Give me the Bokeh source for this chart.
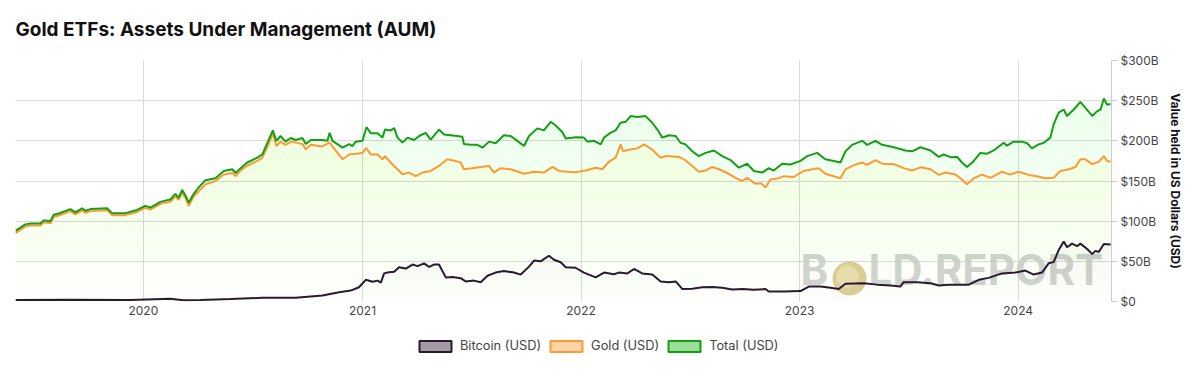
import numpy as np
import pandas as pd
from bokeh.plotting import figure
from bokeh.layouts import column
from bokeh.models import (Range1d, FixedTicker, DatetimeTickFormatter, Legend, LegendItem,
                          Label, PolyAnnotation, ColumnDataSource)
from bokeh.embed import file_html
from bokeh.resources import INLINE

# ---------------- data (decimal years, values in $B) ----------------
total_t = [2019.415, 2019.460, 2019.483, 2019.529, 2019.544, 2019.575, 2019.590, 2019.613, 2019.666, 2019.689,
           2019.720, 2019.735, 2019.758, 2019.834, 2019.857, 2019.918, 2019.971, 2020.009, 2020.032, 2020.078,
           2020.123, 2020.146, 2020.161, 2020.177, 2020.192, 2020.207, 2020.230, 2020.253, 2020.283, 2020.329,
           2020.367, 2020.406, 2020.421, 2020.444, 2020.474, 2020.520, 2020.543, 2020.570, 2020.591, 2020.607,
           2020.626, 2020.649, 2020.672, 2020.695, 2020.726, 2020.741, 2020.764, 2020.817, 2020.840, 2020.850,
           2020.863, 2020.909, 2020.939, 2020.954, 2020.969, 2021.000, 2021.018, 2021.038, 2021.069, 2021.091,
           2021.103, 2021.129, 2021.145, 2021.160, 2021.183, 2021.206, 2021.236, 2021.259, 2021.289, 2021.312,
           2021.350, 2021.373, 2021.434, 2021.457, 2021.464, 2021.495, 2021.526, 2021.549, 2021.579, 2021.609,
           2021.647, 2021.678, 2021.701, 2021.739, 2021.762, 2021.800, 2021.830, 2021.861, 2021.884, 2021.914,
           2021.930, 2021.975, 2022.013, 2022.029, 2022.059, 2022.090, 2022.105, 2022.135, 2022.158, 2022.181,
           2022.204, 2022.227, 2022.257, 2022.295, 2022.326, 2022.349, 2022.372, 2022.402, 2022.433, 2022.455,
           2022.478, 2022.509, 2022.539, 2022.570, 2022.608, 2022.646, 2022.684, 2022.722, 2022.760, 2022.791,
           2022.829, 2022.859, 2022.882, 2022.920, 2022.958, 2023.004, 2023.035, 2023.080, 2023.118, 2023.156,
           2023.187, 2023.210, 2023.240, 2023.286, 2023.309, 2023.347, 2023.378, 2023.431, 2023.484, 2023.515,
           2023.553, 2023.599, 2023.637, 2023.659, 2023.690, 2023.721, 2023.743, 2023.766, 2023.797, 2023.827,
           2023.858, 2023.888, 2023.934, 2023.949, 2023.979, 2024.018, 2024.041, 2024.063, 2024.094, 2024.117,
           2024.147, 2024.162, 2024.185, 2024.208, 2024.223, 2024.254, 2024.284, 2024.307, 2024.338, 2024.361,
           2024.376, 2024.391, 2024.406, 2024.422]
total_v = [88, 96, 97, 97, 101, 100, 108, 109.5, 115, 111,
           116, 113, 115, 116, 110, 110, 114, 119, 117, 124,
           127, 134, 129, 139, 132, 123, 134, 142, 151, 153.5,
           162.5, 164.6, 160, 166, 173, 179, 183, 200, 213, 200,
           206, 199, 203.5, 201, 203.5, 196, 201, 201, 200, 210,
           200, 191.5, 196, 193.5, 199, 200, 217, 209.5, 209.5, 204,
           214, 213, 216, 204, 198, 204, 201, 206, 210, 201.5,
           214, 208, 206, 205, 196, 195, 195, 191.5, 199, 197,
           207, 206, 201.5, 193.5, 206, 215.5, 213, 223.7, 219, 211,
           203, 204.5, 204, 199, 200, 195.6, 204, 210, 213, 222.5,
           223.7, 230.8, 229.6, 230.8, 222.5, 214, 204, 207, 206, 197.6,
           195.6, 187, 181, 185, 188, 181, 176, 166.6, 171.5, 162.5,
           160.5, 166, 163, 171.6, 170.6, 175, 181, 185, 177, 175,
           173, 187, 195, 200, 195, 200, 195, 192, 188, 187,
           192, 188, 180, 183, 179.7, 180, 173, 167.5, 175, 185,
           184, 188, 197.6, 194, 199, 199, 197, 190.6, 195.6, 197.6,
           204, 220.5, 235, 239, 230.8, 239, 248.5, 241, 231, 237,
           239, 252.7, 245, 246]

gold_t = [2019.415, 2019.460, 2019.483, 2019.529, 2019.544, 2019.575, 2019.590, 2019.613, 2019.666, 2019.689,
          2019.720, 2019.735, 2019.758, 2019.834, 2019.857, 2019.918, 2019.971, 2020.009, 2020.032, 2020.078,
          2020.123, 2020.146, 2020.161, 2020.177, 2020.192, 2020.207, 2020.230, 2020.253, 2020.283, 2020.329,
          2020.367, 2020.406, 2020.421, 2020.444, 2020.474, 2020.520, 2020.543, 2020.570, 2020.591, 2020.607,
          2020.626, 2020.649, 2020.675, 2020.726, 2020.741, 2020.764, 2020.817, 2020.850, 2020.863, 2020.909,
          2020.939, 2020.969, 2021.000, 2021.017, 2021.038, 2021.069, 2021.091, 2021.103, 2021.129, 2021.160,
          2021.183, 2021.213, 2021.244, 2021.274, 2021.312, 2021.350, 2021.388, 2021.426, 2021.449, 2021.464,
          2021.502, 2021.541, 2021.579, 2021.602, 2021.632, 2021.678, 2021.739, 2021.785, 2021.830, 2021.869,
          2021.899, 2021.937, 2021.975, 2022.021, 2022.067, 2022.097, 2022.128, 2022.158, 2022.181, 2022.192,
          2022.219, 2022.257, 2022.288, 2022.326, 2022.364, 2022.387, 2022.448, 2022.471, 2022.509, 2022.539,
          2022.570, 2022.600, 2022.631, 2022.676, 2022.707, 2022.737, 2022.760, 2022.795, 2022.825, 2022.844,
          2022.867, 2022.898, 2022.928, 2022.973, 2023.019, 2023.058, 2023.088, 2023.118, 2023.156, 2023.187,
          2023.210, 2023.248, 2023.286, 2023.309, 2023.347, 2023.378, 2023.431, 2023.476, 2023.515, 2023.553,
          2023.599, 2023.637, 2023.667, 2023.713, 2023.736, 2023.766, 2023.797, 2023.835, 2023.873, 2023.926,
          2023.964, 2024.002, 2024.048, 2024.086, 2024.124, 2024.162, 2024.193, 2024.231, 2024.262, 2024.284,
          2024.307, 2024.338, 2024.368, 2024.391, 2024.406, 2024.422]
gold_v = [85, 93.5, 94.5, 94.5, 98.5, 97.5, 105.5, 107, 112.5, 108.5,
          113.5, 110.5, 112.5, 113.5, 107.5, 107.5, 111.5, 116.5, 114.5, 121.5,
          124, 131, 126.5, 135, 129, 119, 131, 137, 146, 150,
          158, 160, 156, 163, 169, 175, 179, 195, 209, 193.5,
          199, 195, 199, 196, 189.4, 195, 193, 198, 193, 177,
          183, 184, 185, 191, 183, 183, 177, 181, 173, 164.6,
          158.4, 160.5, 156, 160.5, 162.5, 168.7, 177, 175, 173, 164.6,
          166, 167.5, 168.7, 160.5, 166, 164.6, 159, 161.6, 160.5, 167.5,
          162.5, 161.6, 161, 163, 166.6, 164.6, 174, 179, 195.6, 187,
          189, 190.6, 195.6, 189, 179, 181, 180, 177, 168.7, 161.6,
          163, 167.5, 164.6, 159, 154, 150, 154, 146.8, 147, 141.8,
          152, 153, 156, 155, 162.5, 164.6, 166, 159, 156, 153.5,
          164.6, 169.8, 173, 170, 176, 171.6, 171, 166, 163, 167,
          164.6, 157.6, 160.5, 158, 153.5, 146, 153.5, 158, 154, 161.6,
          158, 161.6, 157.6, 156, 153.5, 154, 162.5, 164.6, 167.5, 177,
          177, 171, 174, 181, 175, 174]

btc_t = [2019.415, 2019.666, 2019.941, 2020.123, 2020.183, 2020.261, 2020.398, 2020.543, 2020.695, 2020.817,
         2020.893, 2020.946, 2020.984, 2021.015, 2021.046, 2021.069, 2021.084, 2021.099, 2021.114, 2021.145,
         2021.167, 2021.198, 2021.229, 2021.252, 2021.282, 2021.305, 2021.327, 2021.350, 2021.381, 2021.412,
         2021.449, 2021.472, 2021.510, 2021.541, 2021.572, 2021.609, 2021.647, 2021.693, 2021.724, 2021.762,
         2021.785, 2021.815, 2021.853, 2021.876, 2021.907, 2021.930, 2021.975, 2022.013, 2022.067, 2022.105,
         2022.150, 2022.173, 2022.212, 2022.242, 2022.280, 2022.326, 2022.364, 2022.402, 2022.433, 2022.463,
         2022.509, 2022.555, 2022.600, 2022.646, 2022.692, 2022.738, 2022.791, 2022.844, 2022.859, 2022.928,
         2023.004, 2023.042, 2023.096, 2023.141, 2023.179, 2023.210, 2023.294, 2023.355, 2023.416, 2023.461,
         2023.476, 2023.538, 2023.599, 2023.637, 2023.682, 2023.774, 2023.820, 2023.865, 2023.926, 2023.987,
         2024.033, 2024.071, 2024.109, 2024.139, 2024.162, 2024.185, 2024.208, 2024.223, 2024.246, 2024.269,
         2024.284, 2024.315, 2024.338, 2024.353, 2024.368, 2024.391, 2024.422]
btc_v = [2, 2.3, 1.8, 3.5, 1.5, 2, 3, 4.6, 4.8, 7.4,
         11.6, 13.6, 17.8, 27, 24.5, 26, 23.6, 35, 36, 37,
         42.6, 41, 46, 44, 47.5, 43, 46, 46, 30, 30.5,
         29, 25, 26, 24, 32, 36, 38, 36, 33.5, 43.4,
         51, 50, 57, 52, 48.8, 42.6, 42, 36, 30, 36,
         34, 36, 35, 40.5, 35, 33.5, 25, 24, 25, 15.7,
         16, 17.8, 18, 17, 15, 15.5, 14.5, 15.5, 12.4, 12.5,
         13, 18.6, 18.6, 17, 15.5, 22, 22.8, 21, 20, 18.6,
         24, 24, 22.8, 20, 21, 21, 27, 29.4, 35, 36,
         38.5, 33.5, 36, 47.5, 49, 64, 74.8, 67.6, 72, 69,
         72, 65.4, 59, 63, 61.6, 71.6, 71]

y_ticks = [0, 50, 100, 150, 200, 250, 300]
y_tick_labels = ["$0", "$50B", "$100B", "$150B", "$200B", "$250B", "$300B"]
x_tick_years = [2020, 2021, 2022, 2023, 2024]
series_names = ["Bitcoin (USD)", "Gold (USD)", "Total (USD)"]
title_text = "Gold ETFs: Assets Under Management (AUM)"


def to_dt(years):
    out = []
    for y in years:
        yi = int(np.floor(y))
        start = pd.Timestamp(year=yi, month=1, day=1)
        end = pd.Timestamp(year=yi + 1, month=1, day=1)
        out.append(start + (end - start) * (y - yi))
    return pd.to_datetime(out)


FONT = "Inter"
C_BTC, C_GOLD, C_TOT = "#2a1a2e", "#ff9933", "#14a014"


def blank_fig(h):
    f = figure(width=1192, height=h, output_backend="svg", toolbar_location=None,
               x_range=Range1d(0, 1), y_range=Range1d(0, 1),
               x_axis_location=None, y_axis_location=None,
               min_border_left=0, min_border_right=0, min_border_top=0, min_border_bottom=0)
    f.grid.visible = False
    f.outline_line_color = None
    return f


# ---------------- title strip ----------------
tf = blank_fig(45)
tf.add_layout(Label(x=0, y=16, x_units="screen", y_units="screen", text=title_text,
                    text_font=FONT, text_font_size="19px", text_font_style="bold",
                    text_color="#111111", text_baseline="middle", text_align="left"))

# ---------------- main chart ----------------
p = figure(width=1192, height=280, x_axis_type="datetime", y_axis_location="right",
           output_backend="svg", toolbar_location=None,
           x_range=Range1d(to_dt([2019.415])[0], to_dt([2024.426])[0]),
           y_range=Range1d(0, 300),
           min_border_left=15, min_border_right=81, min_border_top=15, min_border_bottom=24)
p.outline_line_color = None
p.background_fill_color = "white"

p.xgrid.grid_line_color = "#dadada"
p.ygrid.grid_line_color = "#dadada"

xa = p.xaxis[0]
xa.ticker = FixedTicker(ticks=[pd.Timestamp(year=y, month=1, day=1).value / 1e6 for y in x_tick_years])
xa.formatter = DatetimeTickFormatter(years="%Y", months="%Y", days="%Y", hours="%Y")
xa.major_tick_out = 0
xa.major_tick_in = 0
xa.minor_tick_out = 0
xa.minor_tick_in = 0
xa.axis_line_color = None
xa.major_label_text_font = FONT
xa.major_label_text_font_size = "12px"
xa.major_label_text_color = "#444444"
xa.major_label_standoff = 4

ya = p.yaxis[0]
ya.ticker = FixedTicker(ticks=y_ticks)
ya.major_label_overrides = {t: l for t, l in zip(y_ticks, y_tick_labels)}
ya.major_tick_out = 6
ya.major_tick_in = 0
ya.minor_tick_out = 0
ya.minor_tick_in = 0
ya.major_tick_line_color = "#cccccc"
ya.axis_line_color = "#cccccc"
ya.major_label_standoff = 3
ya.major_label_text_font = FONT
ya.major_label_text_font_size = "12px"
ya.major_label_text_color = "#444444"
ya.axis_label = "Value held in US Dollars (USD)"
ya.axis_label_text_font = FONT
ya.axis_label_text_font_size = "12px"
ya.axis_label_text_font_style = "bold"
ya.axis_label_text_color = "#111111"
ya.axis_label_standoff = 6

# watermark (screen units, relative to plot frame)
wm_color = "#cccccc"
p.add_layout(Label(x=785, y=7, x_units="screen", y_units="screen", text="B",
                   text_font=FONT, text_font_size="42px", text_font_style="bold",
                   text_color=wm_color, text_alpha=0.85, level="underlay"))
p.add_layout(Label(x=853, y=7, x_units="screen", y_units="screen", text="LD.REPORT",
                   text_font=FONT, text_font_size="42px", text_font_style="bold",
                   text_color=wm_color, text_alpha=0.85, level="underlay"))
ang = np.linspace(0, 2 * np.pi, 48, endpoint=False)
p.add_layout(PolyAnnotation(xs=list(834 + 16.5 * np.cos(ang)), ys=list(23 + 16.5 * np.sin(ang)),
                            xs_units="screen", ys_units="screen",
                            fill_color="#dccb96", fill_alpha=0.95,
                            line_color="#bda868", line_width=1.5, level="underlay"))
p.add_layout(PolyAnnotation(xs=list(832 + 11 * np.cos(ang)), ys=list(25 + 11 * np.sin(ang)),
                            xs_units="screen", ys_units="screen",
                            fill_color="#ebe1ba", fill_alpha=0.8,
                            line_color=None, level="underlay"))

# gradient-like area fills: stacked translucent layers, denser toward the top
N_LAYERS = 24
TOP = 300.0


def gradient_area(t, v, color, max_alpha):
    x = to_dt(t)
    v = np.asarray(v, dtype=float)
    a = 1 - (1 - max_alpha) ** (1.0 / N_LAYERS)
    for k in range(N_LAYERS):
        lo = TOP * k / N_LAYERS
        y1 = np.minimum(v, lo)
        src = ColumnDataSource(dict(x=x, y1=y1, y2=v))
        p.varea(x="x", y1="y1", y2="y2", source=src, fill_color=color, fill_alpha=a)


gradient_area(total_t, total_v, C_TOT, 0.09)
gradient_area(gold_t, gold_v, C_GOLD, 0.12)
gradient_area(btc_t, btc_v, C_BTC, 0.12)

p.line(to_dt(btc_t), btc_v, line_color=C_BTC, line_width=2)
p.line(to_dt(gold_t), gold_v, line_color=C_GOLD, line_width=2)
p.line(to_dt(total_t), total_v, line_color=C_TOT, line_width=2)

# ---------------- legend strip ----------------
lg = blank_fig(40)
proxy = dict(left=[np.nan], right=[np.nan], top=[np.nan], bottom=[np.nan])
r_btc = lg.quad(source=ColumnDataSource(proxy), left="left", right="right", top="top", bottom="bottom",
                fill_color="#a39ba3", line_color=C_BTC, line_width=2)
r_gold = lg.quad(source=ColumnDataSource(proxy), left="left", right="right", top="top", bottom="bottom",
                 fill_color="#ffd3a8", line_color=C_GOLD, line_width=2)
r_tot = lg.quad(source=ColumnDataSource(proxy), left="left", right="right", top="top", bottom="bottom",
                fill_color="#99dd99", line_color=C_TOT, line_width=2)

legend = Legend(items=[LegendItem(label=series_names[0], renderers=[r_btc]),
                       LegendItem(label=series_names[1], renderers=[r_gold]),
                       LegendItem(label=series_names[2], renderers=[r_tot])],
                orientation="horizontal", location=(400, 12),
                glyph_width=40, glyph_height=14, label_standoff=5, spacing=5,
                padding=0, margin=0, border_line_color=None, background_fill_alpha=0,
                label_text_font=FONT, label_text_font_size="12.8px", label_text_color="#444444")
lg.add_layout(legend)

layout = column(tf, p, lg, spacing=0)
open("out.html", "w").write(file_html(layout, INLINE))
